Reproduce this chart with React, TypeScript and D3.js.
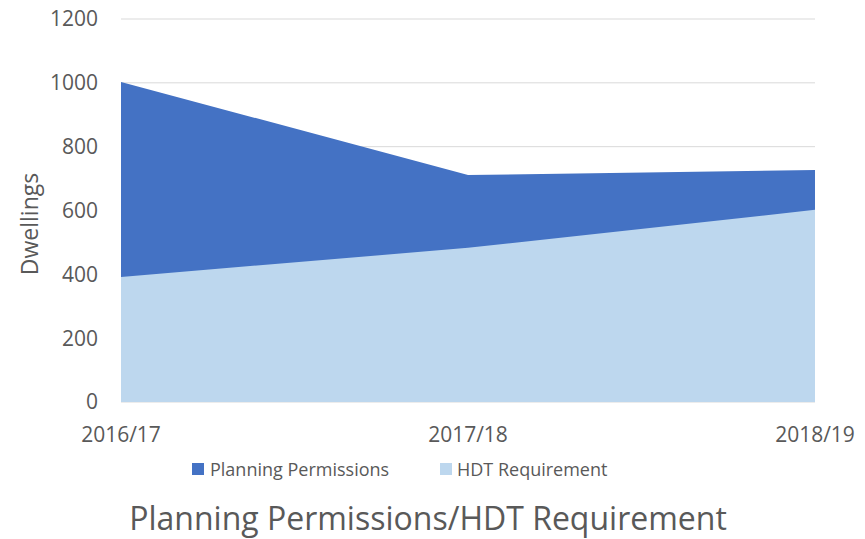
import React from "react";
import * as d3 from "d3";

const categories = ["2016/17", "2017/18", "2018/19"];
const planningPermissions = [1003, 711, 727];
const hdtRequirement = [392, 483, 602];
const yTicks = [0, 200, 400, 600, 800, 1000, 1200];
const seriesNames = ["Planning Permissions", "HDT Requirement"];

export default function App() {
  const W = 865, H = 539;
  const left = 121, right = 815, top = 19, bottom = 402;
  const x = d3.scalePoint<string>().domain(categories).range([left, right]);
  const y = d3.scaleLinear().domain([0, 1200]).range([bottom, top]);
  const area = d3.area<number>()
    .x((_, i) => x(categories[i]) as number)
    .y0(y(0))
    .y1((d) => y(d));
  const font = "'Open Sans', sans-serif";
  const textColor = "#595959";
  return (
    <svg width={W} height={H} style={{ position: "absolute", left: 0, top: 0, background: "#fff" }}>
      {yTicks.map((t) => (
        <g key={t}>
          <line x1={left} x2={right} y1={y(t)} y2={y(t)} stroke="#d9d9d9" strokeWidth={1} />
          <text x={98} y={y(t)} dy="0.35em" textAnchor="end" fontFamily={font} fontSize={21} fill={textColor}>{t}</text>
        </g>
      ))}
      <path d={area(planningPermissions) || ""} fill="#4472C4" />
      <path d={area(hdtRequirement) || ""} fill="#BDD7EE" />
      {categories.map((c) => (
        <text key={c} x={x(c)} y={442} textAnchor="middle" fontFamily={font} fontSize={21} fill={textColor}>{c}</text>
      ))}
      <text transform={`translate(38,${224}) rotate(-90)`} textAnchor="middle" fontFamily={font} fontSize={23} fill={textColor}>Dwellings</text>
      <rect x={192} y={463} width={12} height={12} fill="#4472C4" />
      <text x={210} y={476} fontFamily={font} fontSize={18} fill={textColor}>{seriesNames[0]}</text>
      <rect x={440} y={463} width={12} height={12} fill="#BDD7EE" />
      <text x={457} y={476} fontFamily={font} fontSize={18} fill={textColor}>{seriesNames[1]}</text>
      <text x={428} y={530} textAnchor="middle" fontFamily={font} fontSize={32} fill={textColor}>Planning Permissions/HDT Requirement</text>
    </svg>
  );
}
